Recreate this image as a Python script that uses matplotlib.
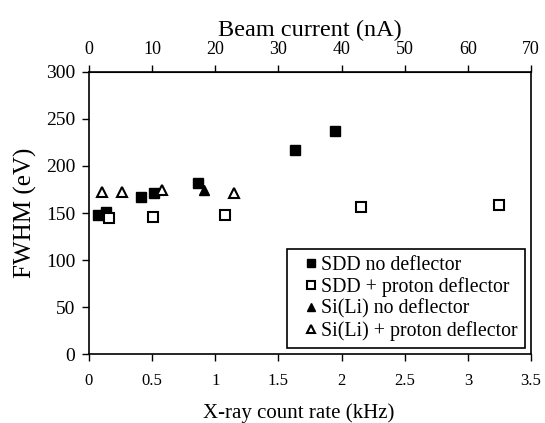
import matplotlib
matplotlib.use("Agg")
import matplotlib.pyplot as plt

plt.rcParams['font.family'] = ['Liberation Serif', 'DejaVu Serif']

# count rate (kHz) vs FWHM (eV)
sdd_no_x = [0.074, 0.132, 0.41, 0.515, 0.866, 1.63, 1.948]
sdd_no_y = [148, 151, 167, 171, 182, 217, 237]
sdd_def_x = [0.161, 0.504, 1.077, 2.151, 3.246]
sdd_def_y = [145, 146, 148, 156, 158]
sili_no_x = [0.91]
sili_no_y = [175]
sili_def_x = [0.105, 0.264, 0.58, 1.151]
sili_def_y = [172, 172, 174, 171]

fig = plt.figure(figsize=(5.45, 4.23), dpi=100)
ax = fig.add_axes([0.1633, 0.1631, 0.811, 0.6667])

ms = 7
ax.plot(sdd_no_x, sdd_no_y, 's', color='black', ms=ms, label='SDD no deflector')
ax.plot(sdd_def_x, sdd_def_y, 's', mfc='white', mec='black', mew=1.5, ms=ms,
        label='SDD + proton deflector')
ax.plot(sili_no_x, sili_no_y, '^', color='black', ms=ms, label='Si(Li) no deflector')
ax.plot(sili_def_x, sili_def_y, '^', mfc='white', mec='black', mew=1.5, ms=ms,
        label='Si(Li) + proton deflector')

ax.set_xlim(0, 3.5)
ax.set_ylim(0, 300)
ax.set_xticks([0, 0.5, 1, 1.5, 2, 2.5, 3, 3.5])
ax.set_xticklabels(['0', '0.5', '1', '1.5', '2', '2.5', '3', '3.5'])
ax.set_yticks(range(0, 301, 50))
ax.tick_params(direction='out', length=5, width=1)
ax.tick_params(axis='x', labelsize=12, pad=9)
ax.tick_params(axis='y', labelsize=14, pad=5)
ax.set_xlabel('X-ray count rate (kHz)', fontsize=15, labelpad=8)
ax.xaxis.set_label_coords(0.475, -0.175)
ax.set_ylabel('FWHM (eV)', fontsize=18, labelpad=6)
for s in ax.spines.values():
    s.set_linewidth(1.2)

top = ax.secondary_xaxis('top', functions=(lambda x: x * 20, lambda x: x / 20))
top.set_xticks(range(0, 71, 10))
top.tick_params(direction='out', length=5, width=1, labelsize=13, pad=5)
top.set_xlabel('Beam current (nA)', fontsize=17.5, labelpad=4)

leg = ax.legend(loc='lower right', fontsize=14.3, markerscale=0.75, fancybox=False,
                edgecolor='black', framealpha=1, handlelength=1.8,
                handletextpad=-0.4, borderpad=0.35, labelspacing=0.12,
                borderaxespad=0, bbox_to_anchor=(0.9864, 0.0213))
leg.get_frame().set_linewidth(1.2)

fig.savefig('out.png', dpi=100)
